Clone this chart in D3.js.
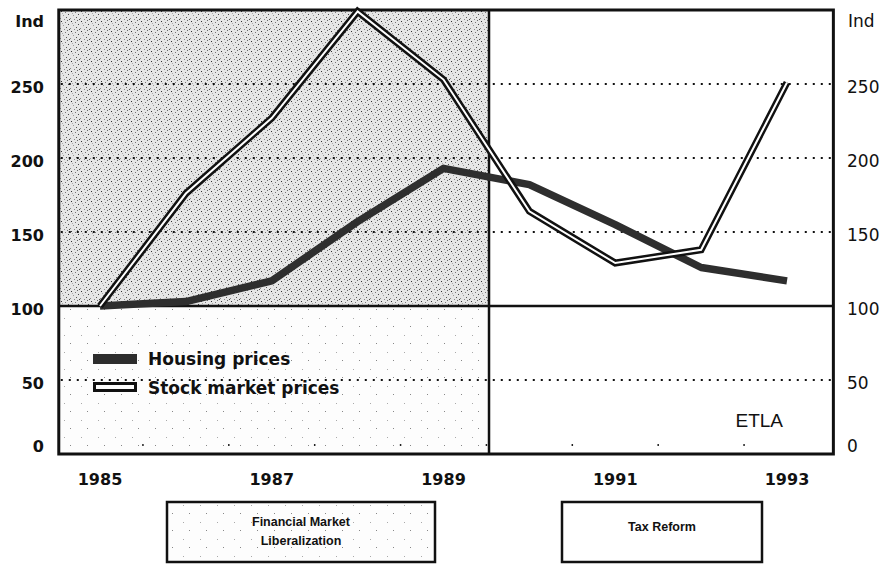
<!DOCTYPE html>
<html>
<head>
<meta charset="utf-8">
<script src="https://cdn.jsdelivr.net/npm/d3@7.9.0/dist/d3.min.js"></script>
<style>
  html, body { margin: 0; padding: 0; background: #fff; }
  svg { display: block; }
  .tick-l { font-family: "DejaVu Sans", sans-serif; font-weight: bold; font-size: 16px; fill: #111; }
  .tick-r { font-family: "DejaVu Sans", sans-serif; font-size: 17px; fill: #111; }
  .year   { font-family: "DejaVu Sans", sans-serif; font-weight: bold; font-size: 16px; fill: #111; }
  .legend { font-family: "DejaVu Sans", sans-serif; font-weight: bold; font-size: 17px; fill: #111; }
  .box-t  { font-family: "Liberation Sans", Arial, sans-serif; font-weight: bold; font-size: 12.5px; fill: #111; }
</style>
</head>
<body>
<div id="chart"></div>
<script>
// ------- data (index, 1985 = 100) -------
const years   = [1985, 1986, 1987, 1988, 1989, 1990, 1991, 1992, 1993];
const housing = [100, 103, 117, 157, 193, 182, 155, 126, 117];
const stock   = [100, 176, 227, 299, 253, 164, 129, 138, 251];

const yTicks     = [0, 50, 100, 150, 200, 250];
const dottedAt   = [50, 150, 200, 250];
const yearTicks  = [1985, 1987, 1989, 1991, 1993];
const minorTicks = [1985.5, 1986.5, 1987.5, 1988.5, 1989.5, 1990.5, 1991.5, 1992.5];

const seriesNames = ['Housing prices', 'Stock market prices'];
const periods = [
  { lines: ['Financial Market', 'Liberalization'], shaded: true },
  { lines: ['Tax Reform'], shaded: false },
];

const frameYears = [1984.52, 1993.54];
const liberalEnd = 1989.53;

// ------- layout -------
const width = 885, height = 565;

const svg = d3.select('#chart').append('svg')
  .attr('width', width)
  .attr('height', height);

const x = d3.scaleLinear().domain([1985, 1993]).range([100, 787]);
const y = d3.scaleLinear().domain([0, 300]).range([454, 10]);

const pLeft = x(frameYears[0]), pRight = x(frameYears[1]);
const pTop = y(300), pBottom = y(0);

// stipple patterns (fixed dot layout)
const defs = svg.append('defs');
const denseDots  = [[1,1,'#333'],[5,2,'#777'],[8,4,'#444'],[3,5,'#999'],[6,7,'#555'],[0,8,'#888'],
                    [9,9,'#444'],[2,3,'#aaa'],[7,0,'#666'],[4,9,'#888']];
const sparseDots = [[2,3,'#888'],[13,12,'#aaa']];

function addPattern(id, size, bg, dots) {
  const p = defs.append('pattern')
    .attr('id', id)
    .attr('patternUnits', 'userSpaceOnUse')
    .attr('width', size).attr('height', size);
  p.append('rect').attr('width', size).attr('height', size).attr('fill', bg);
  p.selectAll('rect.dot').data(dots).join('rect')
    .attr('class', 'dot')
    .attr('x', d => d[0]).attr('y', d => d[1])
    .attr('width', 1).attr('height', 1)
    .attr('fill', d => d[2]);
}
addPattern('stipDense', 10, '#e6e6e6', denseDots);
addPattern('stipSparse', 17, '#fdfdfd', sparseDots);

// shaded liberalization period
svg.append('rect')
  .attr('x', pLeft).attr('y', pTop)
  .attr('width', x(liberalEnd) - pLeft)
  .attr('height', y(100) - pTop)
  .attr('fill', 'url(#stipDense)');
svg.append('rect')
  .attr('x', pLeft).attr('y', y(100))
  .attr('width', x(liberalEnd) - pLeft)
  .attr('height', pBottom - y(100))
  .attr('fill', 'url(#stipSparse)');

// dotted gridlines
svg.append('g')
  .selectAll('line')
  .data(dottedAt)
  .join('line')
  .attr('x1', pLeft + 2).attr('x2', pRight - 2)
  .attr('y1', d => y(d)).attr('y2', d => y(d))
  .attr('stroke', '#111')
  .attr('stroke-width', 2)
  .attr('stroke-dasharray', '2 6');

// solid line at 100
svg.append('line')
  .attr('x1', pLeft).attr('x2', pRight)
  .attr('y1', y(100)).attr('y2', y(100))
  .attr('stroke', '#111').attr('stroke-width', 2.5);

// divider at end of liberalization
svg.append('line')
  .attr('x1', x(liberalEnd)).attr('x2', x(liberalEnd))
  .attr('y1', pTop).attr('y2', pBottom)
  .attr('stroke', '#111').attr('stroke-width', 2.5);

// minor half-year ticks inside the bottom
svg.append('g')
  .selectAll('line')
  .data(minorTicks)
  .join('line')
  .attr('x1', d => x(d)).attr('x2', d => x(d))
  .attr('y1', pBottom - 10).attr('y2', pBottom - 8)
  .attr('stroke', '#222').attr('stroke-width', 1.5);

// frame
svg.append('rect')
  .attr('x', pLeft).attr('y', pTop)
  .attr('width', pRight - pLeft).attr('height', pBottom - pTop)
  .attr('fill', 'none')
  .attr('stroke', '#111').attr('stroke-width', 3);

// ------- series -------
const line = d3.line().x((d, i) => x(years[i])).y(d => y(d));

svg.append('path')
  .datum(housing)
  .attr('d', line)
  .attr('fill', 'none')
  .attr('stroke', '#2e2e2e')
  .attr('stroke-width', 7.5)
  .attr('stroke-linejoin', 'round');

svg.append('path')
  .datum(stock)
  .attr('d', line)
  .attr('fill', 'none')
  .attr('stroke', '#111')
  .attr('stroke-width', 7)
  .attr('stroke-linejoin', 'miter');
svg.append('path')
  .datum(stock)
  .attr('d', line)
  .attr('fill', 'none')
  .attr('stroke', '#fff')
  .attr('stroke-width', 2)
  .attr('stroke-linejoin', 'miter');

// ------- axes labels -------
svg.append('g')
  .selectAll('text')
  .data(yTicks)
  .join('text')
  .attr('class', 'tick-l')
  .attr('x', 44)
  .attr('y', d => d === 0 ? y(d) - 2 : y(d) + 9)
  .attr('text-anchor', 'end')
  .text(d => d);

svg.append('g')
  .selectAll('text')
  .data(yTicks)
  .join('text')
  .attr('class', 'tick-r')
  .attr('x', 847)
  .attr('y', d => d === 0 ? y(d) - 2 : y(d) + 9)
  .text(d => d);

svg.append('text').attr('class', 'tick-l').attr('x', 44).attr('y', 27)
  .attr('text-anchor', 'end').text('Ind');
svg.append('text').attr('class', 'tick-r').attr('x', 848).attr('y', 27).text('Ind');

svg.append('g')
  .selectAll('text')
  .data(yearTicks)
  .join('text')
  .attr('class', 'year')
  .attr('x', d => x(d))
  .attr('y', 485)
  .attr('text-anchor', 'middle')
  .text(d => d);

svg.append('text')
  .attr('x', 783).attr('y', 427)
  .attr('text-anchor', 'end')
  .style('font-family', '"Liberation Sans", Arial, sans-serif')
  .style('font-size', '19px')
  .attr('fill', '#111')
  .text('ETLA');

// ------- legend -------
const legend = svg.append('g').attr('transform', 'translate(93, 359)');
legend.append('rect')
  .attr('x', 0).attr('y', -5).attr('width', 44).attr('height', 10)
  .attr('fill', '#2d2d2d');
legend.append('rect')
  .attr('x', 1.5).attr('y', 24.5).attr('width', 41).attr('height', 7)
  .attr('fill', '#fff').attr('stroke', '#111').attr('stroke-width', 3);
legend.selectAll('text')
  .data(seriesNames)
  .join('text')
  .attr('class', 'legend')
  .attr('x', 55)
  .attr('y', (d, i) => 6 + i * 29)
  .text(d => d);

// ------- period boxes -------
const boxX = [[167, 435], [562, 762]];
const boxes = svg.append('g')
  .selectAll('g')
  .data(periods)
  .join('g');

boxes.append('rect')
  .attr('x', (d, i) => boxX[i][0])
  .attr('y', 502)
  .attr('width', (d, i) => boxX[i][1] - boxX[i][0])
  .attr('height', 60)
  .attr('fill', d => d.shaded ? 'url(#stipSparse)' : '#fff')
  .attr('stroke', '#111')
  .attr('stroke-width', 2.5);

boxes.each(function(d, i) {
  const cx = (boxX[i][0] + boxX[i][1]) / 2;
  d3.select(this).selectAll('text')
    .data(d.lines)
    .join('text')
    .attr('class', 'box-t')
    .attr('x', cx)
    .attr('y', (t, j) => d.lines.length > 1 ? 526 + j * 19 : 531)
    .attr('text-anchor', 'middle')
    .text(t => t);
});
</script>
</body>
</html>
